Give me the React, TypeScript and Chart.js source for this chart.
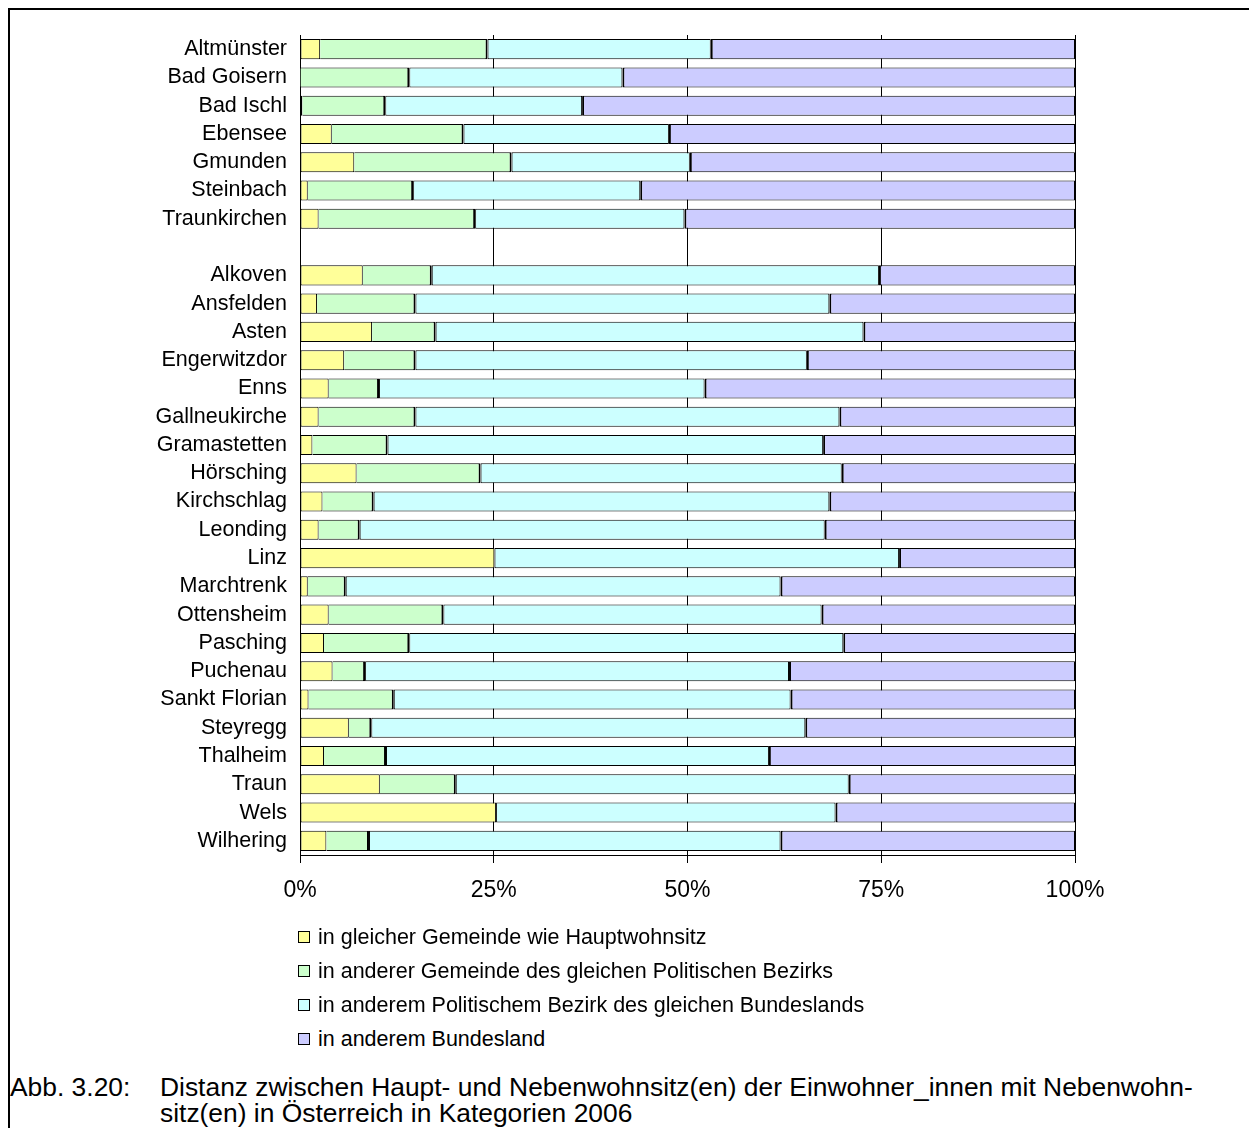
import React, { useEffect, useRef } from "react";
import { Chart, registerables } from "chart.js";

Chart.register(...registerables);

const categories = [
  "Altmünster", "Bad Goisern", "Bad Ischl", "Ebensee", "Gmunden", "Steinbach", "Traunkirchen",
  "",
  "Alkoven", "Ansfelden", "Asten", "Engerwitzdor", "Enns", "Gallneukirche", "Gramastetten",
  "Hörsching", "Kirchschlag", "Leonding", "Linz", "Marchtrenk", "Ottensheim", "Pasching",
  "Puchenau", "Sankt Florian", "Steyregg", "Thalheim", "Traun", "Wels", "Wilhering",
];

// share (%) per category
const sameMunicipality = [2.6, 0, 0.3, 4.1, 7.0, 1.0, 2.4, null, 8.1, 2.2, 9.3, 5.7, 3.7, 2.4, 1.6, 7.3, 2.9, 2.4, 25.1, 1.0, 3.7, 3.1, 4.2, 1.1, 6.3, 3.1, 10.3, 25.3, 3.4];
const sameDistrict = [21.6, 14.1, 10.7, 17.0, 20.3, 13.6, 20.2, null, 8.9, 12.7, 8.2, 9.2, 6.5, 12.5, 9.7, 16.0, 6.6, 5.3, 0, 4.9, 14.8, 11.0, 4.2, 11.0, 2.9, 8.0, 9.8, 0, 5.5];
const sameState = [28.8, 27.5, 25.4, 26.5, 23.0, 29.3, 27.0, null, 57.7, 53.4, 55.2, 50.5, 42.0, 54.7, 56.2, 46.6, 58.8, 60.0, 52.2, 56.1, 48.8, 56.0, 54.7, 51.2, 56.0, 49.4, 50.7, 43.8, 53.1];
const otherState = [47.0, 58.4, 63.6, 52.4, 49.7, 56.1, 50.4, null, 25.3, 31.7, 27.3, 34.6, 47.8, 30.4, 32.5, 30.1, 31.7, 32.3, 22.7, 38.0, 32.7, 29.9, 36.9, 36.7, 34.8, 39.5, 29.2, 30.9, 38.0];

const seriesLabels = [
  "in gleicher Gemeinde wie Hauptwohnsitz",
  "in anderer Gemeinde des gleichen Politischen Bezirks",
  "in anderem Politischem Bezirk des gleichen Bundeslands",
  "in anderem Bundesland",
];
const seriesColors = ["#FFFF99", "#CCFFCC", "#CCFFFF", "#CCCCFF"];
const seriesBorders = [
  { top: 1, bottom: 1, left: 1, right: 1 },
  { top: 1, bottom: 1, left: 0, right: 2 },
  { top: 1, bottom: 1, left: 1, right: 1 },
  { top: 1, bottom: 1, left: 2, right: 1 },
];
const xTickValues = [0, 25, 50, 75, 100];

const captionLabel = "Abb. 3.20:";
const captionLines = [
  "Distanz zwischen Haupt- und Nebenwohnsitz(en) der Einwohner_innen mit Nebenwohn-",
  "sitz(en) in Österreich in Kategorien 2006",
];

const FONT = "'Liberation Sans', Arial, sans-serif";

export default function App() {
  const canvasRef = useRef<HTMLCanvasElement | null>(null);

  useEffect(() => {
    const canvas = canvasRef.current;
    if (!canvas) return;
    const seriesData = [sameMunicipality, sameDistrict, sameState, otherState];
    const chart = new Chart(canvas, {
      type: "bar",
      data: {
        labels: categories,
        datasets: seriesData.map((d, i) => ({
          label: seriesLabels[i],
          data: d,
          backgroundColor: seriesColors[i],
          borderColor: "#000",
          borderWidth: seriesBorders[i],
          borderSkipped: false,
          barPercentage: 0.71,
          categoryPercentage: 1,
        })),
      },
      options: {
        indexAxis: "y",
        responsive: false,
        animation: false,
        layout: { padding: { top: 35, right: 174, left: 0, bottom: 0 } },
        plugins: {
          legend: { display: false },
          tooltip: { enabled: false },
        },
        scales: {
          x: {
            stacked: true,
            min: 0,
            max: 100,
            afterBuildTicks: (s: any) => {
              s.ticks = xTickValues.map((v) => ({ value: v }));
            },
            afterFit: (s: any) => {
              s.height = 75;
            },
            ticks: {
              callback: (v: any) => v + "%",
              color: "#000",
              font: { family: FONT, size: 23 },
              padding: 14,
              maxRotation: 0,
              autoSkip: false,
            },
            grid: { color: "#000", lineWidth: 1, tickLength: 8, drawTicks: true },
            border: { display: true, color: "#000", width: 1 },
          },
          y: {
            stacked: true,
            afterFit: (s: any) => {
              s.width = 300;
            },
            ticks: {
              color: "#000",
              font: { family: FONT, size: 21.5 },
              padding: 13,
              autoSkip: false,
            },
            grid: { display: false, drawTicks: false },
            border: { display: true, color: "#000", width: 1 },
          },
        },
      },
    });
    return () => chart.destroy();
  }, []);

  return (
    <div style={{ position: "fixed", left: 0, top: 0, width: 1249, height: 1128, background: "#fff", overflow: "hidden", fontFamily: FONT }}>
      <div style={{ position: "absolute", left: 8, top: 8, width: 1241, height: 2, background: "#000" }} />
      <div style={{ position: "absolute", left: 8, top: 8, width: 2, height: 1120, background: "#000" }} />
      <canvas ref={canvasRef} width={1249} height={930} style={{ position: "absolute", left: 0, top: 0, width: 1249, height: 930 }} />
      {seriesLabels.map((lab, i) => (
        <div key={i} style={{ position: "absolute", left: 298, top: 920 + i * 34, height: 34, display: "flex", alignItems: "center", fontSize: 21.5, color: "#000", whiteSpace: "nowrap" }}>
          <span style={{ display: "inline-block", width: 10, height: 10, border: "1px solid #000", background: seriesColors[i], marginRight: 8 }} />
          <span>{lab}</span>
        </div>
      ))}
      <div style={{ position: "absolute", left: 10, top: 1074, fontSize: 26.4, lineHeight: "26px", color: "#000", whiteSpace: "nowrap" }}>{captionLabel}</div>
      <div style={{ position: "absolute", left: 160, top: 1074, fontSize: 26.4, lineHeight: "26px", color: "#000", whiteSpace: "nowrap" }}>
        {captionLines.map((l, i) => (
          <div key={i}>{l}</div>
        ))}
      </div>
    </div>
  );
}
